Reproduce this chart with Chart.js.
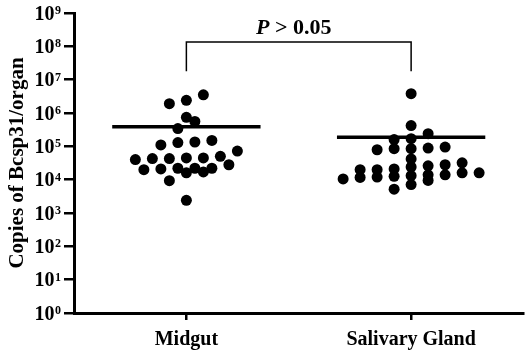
<!DOCTYPE html>
<html>
<head>
<meta charset="utf-8">
<script src="https://cdn.jsdelivr.net/npm/chart.js@4.4.1/dist/chart.umd.min.js"></script>
<style>
  html, body { margin: 0; padding: 0; background: #fff; }
  #wrap { width: 529px; height: 351px; }
</style>
</head>
<body>
<div id="wrap"><canvas id="bcspChart"></canvas></div>
<script>
// =========================
// Data (copies per organ)
// =========================

const categories = ["Midgut", "Salivary Gland"];

const midgutCopies = [
  3.5e6, 1.9e6, 2.4e6, 7.4e5, 5.6e5, 3.4e5, 1.5e5, 1.35e5, 1.1e5, 1.3e5,
  7.2e4, 4.5e4, 4.3e4, 4.0e4, 4.3e4, 4.5e4, 5.0e4, 2.2e4, 2.2e4, 2.0e4,
  1.6e4, 9.3e3, 1.7e4, 2.1e4, 2.2e4, 2.8e4, 2.4e3
];

const salivaryCopies = [
  3.8e6, 4.2e5, 1.7e5, 1.6e5, 2.4e5, 9.5e4, 8.5e4, 7.9e4, 8.5e4, 8.9e4,
  4.2e4, 2.8e4, 2.4e4, 2.0e4, 2.0e4, 2.1e4, 2.6e4, 3.2e4, 1.6e4, 1.4e4,
  1.26e4, 1.17e4, 9.5e3, 5.2e3, 7.1e3, 1.05e4, 1.2e4, 1.32e4, 1.4e4, 1.6e4
];

const yExponents = [0, 1, 2, 3, 4, 5, 6, 7, 8, 9];

// significance bracket
const bracketLow = 1.8e7;
const bracketHigh = 1.35e8;
const pLabel = "> 0.05";

// =========================
// Helpers
// =========================

const FONT = '"Liberation Serif", "Times New Roman", serif';
const ROW_PX = 9;     // points closer than this (vertically) share a row
const GAP_PX = 17;    // horizontal spacing inside a row
const MEAN_HALF = 0.33;

function mean(arr) {
  return arr.reduce((a, b) => a + b, 0) / arr.length;
}

// Prism-like row scatter, computed from the chart's own scales
function spread(values, center, chart) {
  const xs = chart.scales.x, ys = chart.scales.y;
  const cx = xs.getPixelForValue(center);
  const items = values.map(v => ({ v, py: ys.getPixelForValue(v) }))
    .sort((a, b) => b.py - a.py);
  const out = [];
  let i = 0;
  while (i < items.length) {
    const row = [items[i]];
    let j = i + 1;
    while (j < items.length && items[i].py - items[j].py <= ROW_PX) {
      row.push(items[j]);
      j++;
    }
    row.forEach((it, k) => {
      const px = cx + (k - (row.length - 1) / 2) * GAP_PX;
      out.push({ x: xs.getValueForPixel(px), y: it.v });
    });
    i = j;
  }
  return out;
}

function meanLine(values, center) {
  const m = mean(values);
  return [{ x: center - MEAN_HALF, y: m }, { x: center + MEAN_HALF, y: m }];
}

// tick labels as 10 with superscript + P value text
const textPlugin = {
  id: "textPlugin",
  afterDraw(chart) {
    const { ctx, scales: { x, y } } = chart;
    ctx.save();
    ctx.fillStyle = "#000";
    ctx.textBaseline = "alphabetic";
    const right = y.right - 13;
    yExponents.forEach(e => {
      const py = y.getPixelForValue(Math.pow(10, e));
      ctx.textAlign = "right";
      ctx.font = "bold 12px " + FONT;
      const sup = String(e);
      const supW = ctx.measureText(sup).width;
      ctx.fillText(sup, right, py + 1);
      ctx.font = "bold 20px " + FONT;
      ctx.fillText("10", right - supW - 0.5, py + 6.5);
    });

    // P > 0.05
    const cx = (x.getPixelForValue(0.5) + x.getPixelForValue(1.5)) / 2 - 5;
    const by = y.getPixelForValue(bracketHigh) - 8;
    ctx.font = "italic bold 22px " + FONT;
    const pW = ctx.measureText("P ").width;
    ctx.font = "bold 22px " + FONT;
    const restW = ctx.measureText(pLabel).width;
    const startX = cx - (pW + restW) / 2;
    ctx.textAlign = "left";
    ctx.font = "italic bold 22px " + FONT;
    ctx.fillText("P ", startX, by);
    ctx.font = "bold 22px " + FONT;
    ctx.fillText(pLabel, startX + pW, by);
    ctx.restore();
  }
};

// =========================
// Create Chart
// =========================

const ctx = document.getElementById("bcspChart").getContext("2d");

const bcspChart = new Chart(ctx, {
  type: "scatter",
  data: {
    datasets: [
      {
        label: "Midgut",
        data: midgutCopies.map(v => ({ x: 0.5, y: v })),
        backgroundColor: "#000",
        borderWidth: 0,
        pointRadius: 5.5
      },
      {
        label: "Salivary Gland",
        data: salivaryCopies.map(v => ({ x: 1.5, y: v })),
        backgroundColor: "#000",
        borderWidth: 0,
        pointRadius: 5.5
      },
      {
        label: "Midgut mean",
        data: meanLine(midgutCopies, 0.5),
        showLine: true,
        borderColor: "#000",
        borderWidth: 3.5,
        pointRadius: 0
      },
      {
        label: "Salivary mean",
        data: meanLine(salivaryCopies, 1.5),
        showLine: true,
        borderColor: "#000",
        borderWidth: 3.5,
        pointRadius: 0
      },
      {
        label: "bracket",
        data: [
          { x: 0.5, y: bracketLow }, { x: 0.5, y: bracketHigh },
          { x: 1.5, y: bracketHigh }, { x: 1.5, y: bracketLow }
        ],
        showLine: true,
        borderColor: "#000",
        borderWidth: 1.5,
        pointRadius: 0
      }
    ]
  },
  options: {
    responsive: true,
    maintainAspectRatio: false,
    animation: false,
    layout: { padding: { top: 13, right: 3, left: 0, bottom: 0 } },
    plugins: {
      legend: { display: false },
      tooltip: { enabled: false }
    },
    scales: {
      x: {
        type: "linear",
        min: 0,
        max: 2,
        afterBuildTicks: s => { s.ticks = [{ value: 0.5 }, { value: 1.5 }]; },
        afterFit: s => { s.height = 38; },
        ticks: {
          callback: (v) => categories[Math.round(v - 0.5)],
          color: "#000",
          font: { family: FONT, size: 20, weight: "bold" },
          padding: 8,
          maxRotation: 0
        },
        grid: {
          drawOnChartArea: false,
          drawTicks: true,
          tickLength: 7,
          color: "#000",
          lineWidth: 2.5
        },
        border: { display: true, color: "#000", width: 3 }
      },
      y: {
        type: "logarithmic",
        min: 1,
        max: 1e9,
        afterBuildTicks: s => { s.ticks = yExponents.map(e => ({ value: Math.pow(10, e) })); },
        afterFit: s => { s.width = 74; },
        ticks: { display: false },
        grid: {
          drawOnChartArea: false,
          drawTicks: true,
          tickLength: 10,
          color: "#000",
          lineWidth: 2.5
        },
        border: { display: true, color: "#000", width: 3 },
        title: {
          display: true,
          text: "Copies of Bcsp31/organ",
          color: "#000",
          font: { family: FONT, size: 21, weight: "bold" },
          padding: { top: 5, bottom: 4 }
        }
      }
    }
  },
  plugins: [textPlugin]
});

// lay out the dots once the scales exist
bcspChart.data.datasets[0].data = spread(midgutCopies, 0.5, bcspChart);
bcspChart.data.datasets[1].data = spread(salivaryCopies, 1.5, bcspChart);
bcspChart.update("none");
</script>
</body>
</html>
